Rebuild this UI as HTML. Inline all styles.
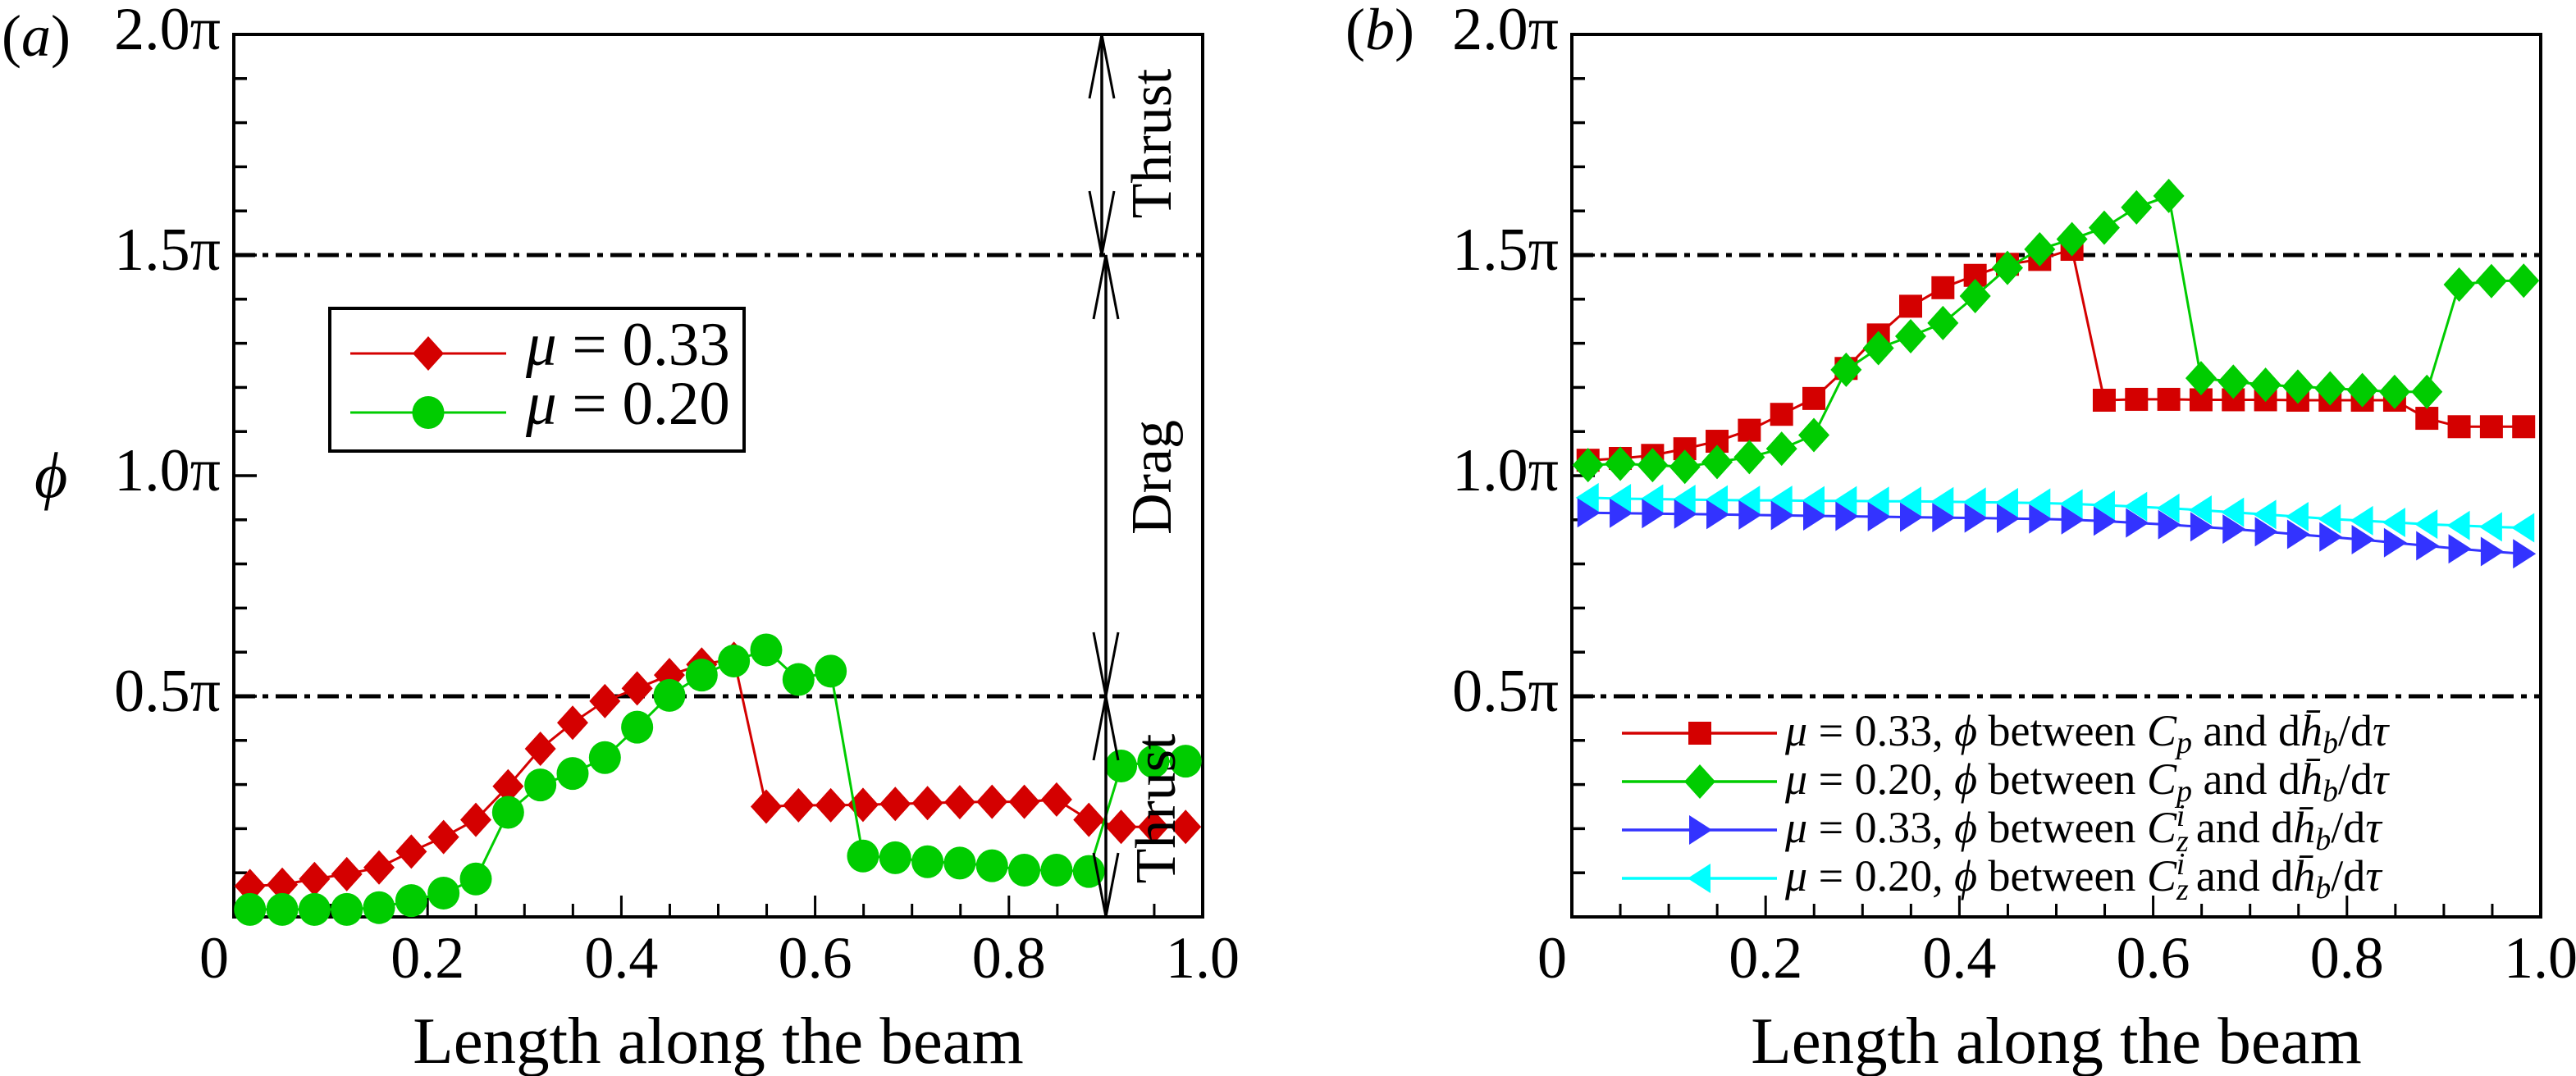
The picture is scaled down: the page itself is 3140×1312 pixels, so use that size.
<!DOCTYPE html>
<html>
<head>
<meta charset="utf-8">
<style>
html,body{margin:0;padding:0;background:#fff;}
svg{display:block;}
text{font-family:"Liberation Serif","DejaVu Serif",serif;fill:#000;}
</style>
</head>
<body>
<svg id="fig" width="3140" height="1312" viewBox="0 0 3140 1312" xmlns="http://www.w3.org/2000/svg">
  <g id="panelA"></g>
  <g id="panelB"></g>
</svg>
<script>
// ---------- data ----------
const xValues = [];
for (let k = 0; k < 30; k++) xValues.push(0.0167 + 0.0333 * k);

const yTickValues = [0, 0.5, 1.0, 1.5, 2.0];
const yTickLabels = ["", "0.5π", "1.0π", "1.5π", "2.0π"];
const xTickValues = [0, 0.2, 0.4, 0.6, 0.8, 1.0];
const xTickLabels = ["0", "0.2", "0.4", "0.6", "0.8", "1.0"];

// panel (a), phase in units of π
const aMu033 = [0.070,0.073,0.086,0.097,0.112,0.148,0.181,0.220,0.296,0.381,0.440,0.489,0.518,0.548,0.572,0.585,0.250,0.253,0.253,0.254,0.256,0.258,0.260,0.261,0.261,0.266,0.220,0.204,0.204,0.204];
const aMu020 = [0.017,0.017,0.017,0.017,0.021,0.037,0.054,0.086,0.237,0.299,0.325,0.361,0.430,0.502,0.548,0.580,0.605,0.538,0.557,0.138,0.134,0.125,0.122,0.116,0.106,0.106,0.103,0.342,0.352,0.353];

// panel (b)
const bCpMu033 = [1.035,1.039,1.046,1.061,1.078,1.103,1.139,1.175,1.243,1.319,1.384,1.426,1.454,1.479,1.490,1.513,1.171,1.173,1.173,1.172,1.172,1.172,1.171,1.171,1.171,1.171,1.130,1.111,1.111,1.111];
const bCpMu020 = [1.024,1.027,1.024,1.020,1.031,1.042,1.061,1.092,1.240,1.289,1.316,1.346,1.407,1.471,1.513,1.536,1.562,1.608,1.634,1.221,1.213,1.206,1.202,1.198,1.194,1.190,1.190,1.433,1.441,1.442];
const bCzMu033 = [0.916,0.915,0.914,0.913,0.912,0.911,0.910,0.909,0.908,0.907,0.906,0.905,0.904,0.903,0.902,0.900,0.897,0.893,0.889,0.884,0.879,0.873,0.867,0.861,0.855,0.848,0.841,0.834,0.828,0.823];
const bCzMu020 = [0.950,0.948,0.947,0.946,0.945,0.944,0.944,0.943,0.943,0.942,0.942,0.941,0.940,0.939,0.938,0.936,0.933,0.930,0.926,0.922,0.917,0.912,0.907,0.902,0.898,0.894,0.890,0.887,0.884,0.882];

const refLines = [0.5, 1.5];

// ---------- helpers ----------
const NS = "http://www.w3.org/2000/svg";
function mk(tag, attrs, parent) {
  const e = document.createElementNS(NS, tag);
  for (const k in attrs) e.setAttribute(k, attrs[k]);
  parent.appendChild(e);
  return e;
}
const TOP = 42, BOT = 1118;
function makeAxes(x0) {
  const w = 1181;
  return {
    x0: x0, x1: x0 + w,
    sx: v => x0 + v * w,
    sy: v => BOT - v / 2 * (BOT - TOP)
  };
}
const C_RED = "#d40000", C_GREEN = "#00cc00", C_BLUE = "#3333ff", C_CYAN = "#00ffff";

function marker(g, type, cx, cy, color) {
  let el;
  if (type === "diamond") {
    el = mk("polygon", {points: `${cx},${cy-21} ${cx+19},${cy} ${cx},${cy+21} ${cx-19},${cy}`, fill: color}, g);
  } else if (type === "circle") {
    el = mk("ellipse", {cx: cx, cy: cy, rx: 19.5, ry: 20, fill: color}, g);
  } else if (type === "square") {
    el = mk("rect", {x: cx-14, y: cy-14, width: 28, height: 28, fill: color}, g);
  } else if (type === "right") {
    el = mk("polygon", {points: `${cx-13},${cy-18} ${cx+15},${cy} ${cx-13},${cy+18}`, fill: color}, g);
  } else {
    el = mk("polygon", {points: `${cx+13},${cy-18} ${cx-15},${cy} ${cx+13},${cy+18}`, fill: color}, g);
  }
  return el;
}

function drawSeries(parent, ax, xs, ys, color, type, name) {
  const g = mk("g", {}, parent);
  
  
  const pts = xs.map((x, i) => ax.sx(x).toFixed(1) + "," + ax.sy(ys[i]).toFixed(1)).join(" ");
  const pl = mk("polyline", {points: pts, fill: "none", stroke: color, "stroke-width": 3}, g);
  
  
  xs.forEach((x, i) => {
    const m = marker(g, type, ax.sx(x), ax.sy(ys[i]), color);
    
    
  });
}

function drawFrame(parent, ax, tag) {
  const g = mk("g", {}, parent);
  
  
  refLines.forEach(v => {
    const l = mk("line", {x1: ax.x0, x2: ax.x1, y1: ax.sy(v), y2: ax.sy(v), stroke: "#000", "stroke-width": 5, "stroke-dasharray": "26 9 7 9"}, g);
    
    
  });
  for (let i = 0; i <= 20; i++) {
    const v = i * 0.1;
    const major = i % 5 === 0;
    const t = mk("line", {x1: ax.x0, x2: ax.x0 + (major ? 28 : 16), y1: ax.sy(v), y2: ax.sy(v), stroke: "#000", "stroke-width": 3.5}, g);
    
    
  }
  yTickValues.forEach((v, i) => {
    if (!yTickLabels[i]) return;
    const t = mk("text", {x: ax.x0 - 16, y: ax.sy(v) + 18, "font-size": 74, "text-anchor": "end"}, g);
    t.textContent = yTickLabels[i];
    
    
  });
  for (let i = 0; i <= 20; i++) {
    const v = i * 0.05;
    const major = i % 4 === 0;
    const t = mk("line", {x1: ax.sx(v), x2: ax.sx(v), y1: BOT, y2: BOT - (major ? 26 : 16), stroke: "#000", "stroke-width": 3}, g);
    
    
  }
  xTickValues.forEach((v, i) => {
    const t = mk("text", {x: ax.sx(v) - (i === 0 ? 24 : 0), y: 1192, "font-size": 72, "text-anchor": "middle"}, g);
    t.textContent = xTickLabels[i];
    
    
  });
  const xt = mk("text", {x: (ax.x0 + ax.x1) / 2, y: 1296, "font-size": 81, "text-anchor": "middle"}, g);
  xt.textContent = "Length along the beam";
  
  
  const r = mk("rect", {x: ax.x0, y: TOP, width: ax.x1 - ax.x0, height: BOT - TOP, fill: "none", stroke: "#000", "stroke-width": 4}, g);
  
  
}

// ---------- panel a ----------
const gA = document.getElementById("panelA");
const axA = makeAxes(285);
drawFrame(gA, axA, "a");
drawSeries(gA, axA, xValues, aMu033, C_RED, "diamond", "series-a-mu033");
drawSeries(gA, axA, xValues, aMu020, C_GREEN, "circle", "series-a-mu020");

(function(){
  const g = mk("g", {}, gA);
  
  
  const segs = [[2.0, 1.5, 1343], [1.5, 0.5, 1348], [0.5, 0.0, 1348]];
  segs.forEach(s => {
    const x = s[2], ya = axA.sy(s[0]), yb = axA.sy(s[1]);
    mk("line", {x1: x, x2: x, y1: ya, y2: yb, stroke: "#000", "stroke-width": 3.5}, g);
    mk("polyline", {points: `${x-15},${ya+78} ${x},${ya} ${x+15},${ya+78}`, fill: "none", stroke: "#000", "stroke-width": 3}, g);
    mk("polyline", {points: `${x-15},${yb-78} ${x},${yb} ${x+15},${yb-78}`, fill: "none", stroke: "#000", "stroke-width": 3}, g);
  });
  const labels = [["Thrust", 175, "thrust-label-top"], ["Drag", 582, "drag-label"], ["Thrust", 986, "thrust-label-bottom"]];
  labels.forEach(l => {
    const bx = l[2] === "thrust-label-bottom" ? 1432 : 1427;
    const t = mk("text", {x: 0, y: 0, "font-size": 70, "text-anchor": "middle", transform: `translate(${bx},${l[1]}) rotate(-90)`}, g);
    t.textContent = l[0];
    
    
  });
})();

(function(){
  const g = mk("g", {}, gA);
  
  
  mk("rect", {x: 402, y: 376, width: 505, height: 174, fill: "#fff", stroke: "#000", "stroke-width": 4}, g);
  const entries = [[431, C_RED, "diamond", "0.33"], [503, C_GREEN, "circle", "0.20"]];
  entries.forEach(e => {
    const ge = mk("g", {}, g);
    
    
    mk("line", {x1: 427, x2: 617, y1: e[0], y2: e[0], stroke: e[1], "stroke-width": 3}, ge);
    marker(ge, e[2], 522, e[0], e[1]);
    const t = mk("text", {x: 641, y: e[0] + 14, "font-size": 75}, ge);
    t.innerHTML = '<tspan font-style="italic">μ</tspan> = ' + e[3];
  });
})();

const la = mk("text", {x: 2, y: 68, "font-size": 72}, gA);
la.innerHTML = '(<tspan font-style="italic">a</tspan>)';


const phi = mk("text", {x: 42, y: 606, "font-size": 78, "font-style": "italic"}, gA);
phi.textContent = "ϕ";



// ---------- panel b ----------
const gB = document.getElementById("panelB");
const axB = makeAxes(1916);
drawFrame(gB, axB, "b");
drawSeries(gB, axB, xValues, bCzMu020, C_CYAN, "left", "series-b-cz-mu020");
drawSeries(gB, axB, xValues, bCzMu033, C_BLUE, "right", "series-b-cz-mu033");
drawSeries(gB, axB, xValues, bCpMu033, C_RED, "square", "series-b-cp-mu033");
drawSeries(gB, axB, xValues, bCpMu020, C_GREEN, "diamond", "series-b-cp-mu020");

(function(){
  const g = mk("g", {}, gB);
  
  
  const hb = 'd<tspan font-style="italic">h̄</tspan><tspan font-style="italic" font-size="38" dy="9">b</tspan><tspan dy="-9">/d</tspan><tspan font-style="italic">τ</tspan>';
  const cp = '<tspan font-style="italic">C</tspan><tspan font-style="italic" font-size="38" dy="9">p</tspan><tspan dy="-9"> and </tspan>';
  const cz = '<tspan font-style="italic">C</tspan><tspan font-style="italic" font-size="38" dy="11">z</tspan><tspan font-style="italic" font-size="38" dx="-15" dy="-31">i</tspan><tspan dy="20"> and </tspan>';
  const entries = [
    [894, C_RED, "square", "0.33", cp],
    [953, C_GREEN, "diamond", "0.20", cp],
    [1012, C_BLUE, "right", "0.33", cz],
    [1071, C_CYAN, "left", "0.20", cz]
  ];
  entries.forEach(e => {
    const ge = mk("g", {}, g);
    
    
    mk("line", {x1: 1977, x2: 2166, y1: e[0], y2: e[0], stroke: e[1], "stroke-width": 3.5}, ge);
    marker(ge, e[2], 2072, e[0], e[1]);
    const t = mk("text", {x: 2176, y: e[0] + 15, "font-size": 54}, ge);
    t.innerHTML = '<tspan font-style="italic">μ</tspan> = ' + e[3] + ', <tspan font-style="italic">ϕ</tspan> between ' + e[4] + hb;
  });
})();

const lb = mk("text", {x: 1640, y: 60, "font-size": 72}, gB);
lb.innerHTML = '(<tspan font-style="italic">b</tspan>)';


</script>
</body>
</html>
